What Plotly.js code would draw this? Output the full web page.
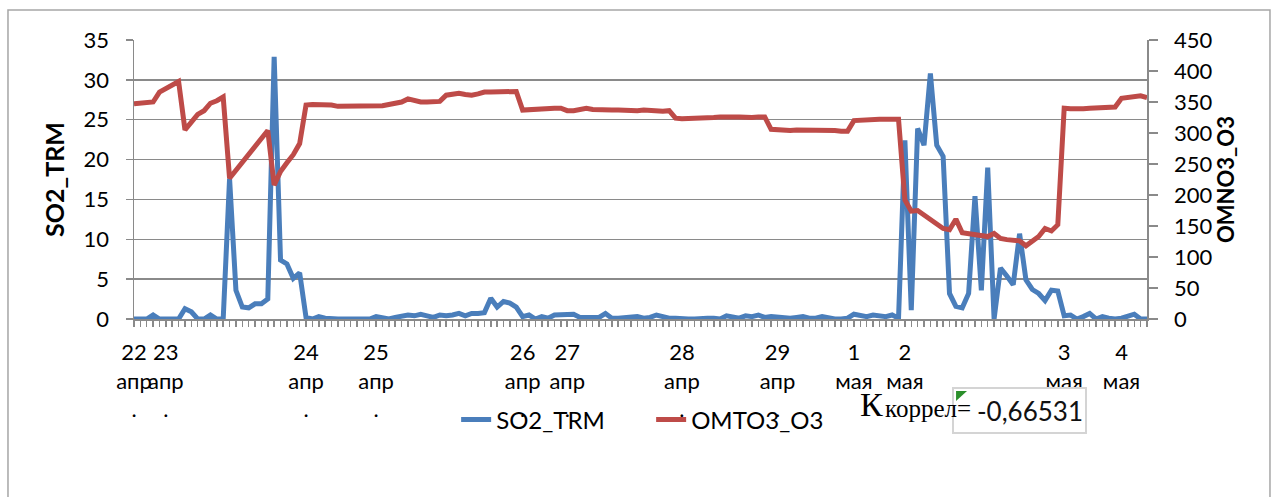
<!DOCTYPE html>
<html><head><meta charset="utf-8">
<script src="https://cdn.plot.ly/plotly-3.0.1.min.js"></script>
<style>html,body{margin:0;padding:0;background:#fff}#chart{width:1277px;height:497px}</style>
</head><body><div id="chart"></div>
<script>
// SO2_TRM (left axis)
const so2Trm = [
  0,0,0,0.5,0,0,0,0,1.3,0.9,
  0,0,0.5,0,0,17.6,3.6,1.5,1.4,1.9,
  1.9,2.5,32.9,7.4,6.9,5.1,5.8,0.2,0,0.3,
  0.1,0,0,0,0,0,0,0,0.3,0.2,
  0,0.2,0.3,0.5,0.4,0.6,0.4,0.2,0.5,0.4,
  0.5,0.7,0.4,0.7,0.7,0.8,2.6,1.5,2.2,2.0,
  1.5,0.3,0.5,0,0.3,0.1,0.5,0.5,0.5,0.6,
  0.2,0.2,0.2,0.2,0.7,0.1,0.1,0.2,0.2,0.3,
  0.1,0.2,0.5,0.3,0.1,0.1,0,0,0,0.1,
  0.1,0.1,0,0.4,0.2,0.1,0.4,0.3,0.5,0.2,
  0.3,0.2,0.2,0.1,0.2,0.3,0.1,0.1,0.3,0.1,
  0,0,0.1,0.6,0.4,0.3,0.5,0.4,0.3,0.5,
  0.1,22.4,1.1,23.9,21.8,30.8,21.8,20.4,3.2,1.6,
  1.4,3.2,15.4,3.6,19.0,0,6.4,5.4,4.3,10.7,
  4.9,3.7,3.2,2.3,3.6,3.5,0.4,0.5,0,0.3,
  0.7,0,0.3,0.1,0,0.1,0.3,0.6,0,0
];
// OMTO3_O3 (right axis)
const omto3O3 = [
  347,348,349,350,366,372,377,383,305,318,
  330,336,348,352,358,227,240,254,267,280,
  292,304,216,238,252,265,283,345,346,346,
  346,345,343,343,342,342,343,343,344,344,
  346,347,350,355,352,350,350,350,351,361,
  362,364,362,361,363,366,366,366,366,366,
  367,337,338,338,339,340,340,340,336,336,
  337,340,338,337,337,337,337,336,336,336,
  337,336,334,335,336,324,323,323,323,324,
  325,325,326,327,326,326,325,325,326,326,
  306,305,305,304,305,305,306,305,305,304,
  304,303,303,320,321,321,322,322,322,322,
  322,192,174,175,168,160,155,146,144,161,
  139,137,135,133,133,138,130,128,127,126,
  118,125,133,146,142,152,340,339,338,339,
  340,341,341,342,342,356,357,358,360,357
];
// date tick labels (category index where each day's label sits)
const tickIndex = [0,5,27,38,61,68,86,101,113,121,146,155];
const tickDay   = ['22','23','24','25','26','27','28','29','1','2','3','4'];
const tickMonth = ['апр','апр','апр','апр','апр','апр','апр','апр','мая','мая','мая','мая'];
const tickDot   = ['.','.','.','.','.','.','.','.','','','',''];
const leftTitle = 'SO2_TRM';
const rightTitle = 'OMNO3_O3';
const corrSymbol = 'К';
const corrSub = 'коррел=';
const corrValue = '-0,66531';

const xIndex = so2Trm.map((_, i) => i);
const tickText = tickDay.map((d, i) => d + '<br>' + tickMonth[i] + (tickDot[i] ? '<br>' + tickDot[i] : ''));

const gray = '#8a8a8a';
const FONT = 'Lato, "Open Sans", "Liberation Sans", sans-serif';
const SERIF = '"Liberation Serif", "DejaVu Serif", serif';

const traces = [
  {x: xIndex, y: so2Trm, type: 'scatter', mode: 'lines', name: 'SO2_TRM',
   line: {color: '#4a7ebb', width: 5}, yaxis: 'y'},
  {x: xIndex, y: omto3O3, type: 'scatter', mode: 'lines', name: 'OMTO3_O3',
   line: {color: '#be4b48', width: 5}, yaxis: 'y2'}
];

const layout = {
  width: 1277, height: 497,
  margin: {l: 134, r: 130, t: 40, b: 178, pad: 0},
  paper_bgcolor: '#fff', plot_bgcolor: '#fff',
  font: {family: FONT, color: '#000', size: 21},
  showlegend: true,
  legend: {orientation: 'h', x: 0.318, xanchor: 'left', y: -0.362, yanchor: 'middle',
           entrywidth: 150, entrywidthmode: 'pixels',
           font: {size: 24, family: FONT}, bgcolor: 'rgba(0,0,0,0)', traceorder: 'normal'},
  xaxis: {range: [0, 159], showgrid: false, zeroline: false, showline: true,
          linecolor: gray, linewidth: 1.5, tickmode: 'array', tickvals: tickIndex, ticktext: tickText,
          ticks: 'outside', ticklen: 6, tickcolor: gray, tickwidth: 1.5, tickangle: 0,
          ticklabelstandoff: 7, tickfont: {size: 22},
          minor: {tickmode: 'linear', tick0: 0, dtick: 1, ticks: 'outside', ticklen: 6,
                  tickcolor: gray, tickwidth: 1.5, showgrid: false},
          layer: 'below traces', fixedrange: true},
  yaxis: {range: [0, 35], tick0: 0, dtick: 5, showgrid: true, gridcolor: gray, gridwidth: 1.5,
          zeroline: false, showline: true, linecolor: gray, linewidth: 1.5,
          ticks: 'outside', ticklen: 7, tickcolor: gray, tickwidth: 1.5, ticklabelstandoff: 12,
          tickfont: {size: 22},
          title: {text: '<b>' + leftTitle + '</b>', font: {size: 25}, standoff: 12},
          layer: 'below traces', fixedrange: true},
  yaxis2: {overlaying: 'y', side: 'right', range: [0, 450], tick0: 0, dtick: 50,
           showgrid: false, zeroline: false, showline: true, linecolor: gray, linewidth: 1.5,
           ticks: 'outside', ticklen: 9, tickcolor: gray, tickwidth: 1.5, ticklabelstandoff: 12,
           tickfont: {size: 22},
           title: {text: '<b>' + rightTitle + '</b>', font: {size: 22}, standoff: 7},
           layer: 'below traces', fixedrange: true},
  shapes: [
    {type: 'rect', xref: 'paper', yref: 'paper', x0: -0.1244, x1: 1.1214, y0: -0.70, y1: 1.1075,
     line: {color: '#a6a6a6', width: 1.5}, layer: 'below'},
    {type: 'path', xref: 'paper', yref: 'paper',
     path: 'M 0.8115 -0.258 L 0.8223 -0.258 L 0.8115 -0.294 Z',
     fillcolor: '#2b8f2b', line: {width: 0}, layer: 'above'}
  ],
  annotations: [
    {xref: 'paper', yref: 'paper', x: 0.8741, y: -0.328, xanchor: 'center', yanchor: 'middle',
     text: corrValue, showarrow: false, width: 127, height: 39, align: 'right',
     bordercolor: '#d4d4d4', borderwidth: 2, borderpad: 2, bgcolor: 'rgba(255,255,255,0)',
     font: {size: 26, family: FONT, color: '#111'}},
    {xref: 'paper', yref: 'paper', x: (884 - 134) / 1013, y: -0.308, xanchor: 'right', yanchor: 'middle',
     text: corrSymbol, showarrow: false, borderpad: 0,
     font: {size: 34, family: SERIF, color: '#000'}},
    {xref: 'paper', yref: 'paper', x: (884 - 134) / 1013, y: -0.319, xanchor: 'left', yanchor: 'middle',
     text: corrSub, showarrow: false, borderpad: 0,
     font: {size: 25, family: SERIF, color: '#000'}}
  ]
};

Plotly.newPlot('chart', traces, layout, {displayModeBar: false, staticPlot: true});
</script>
</body></html>
